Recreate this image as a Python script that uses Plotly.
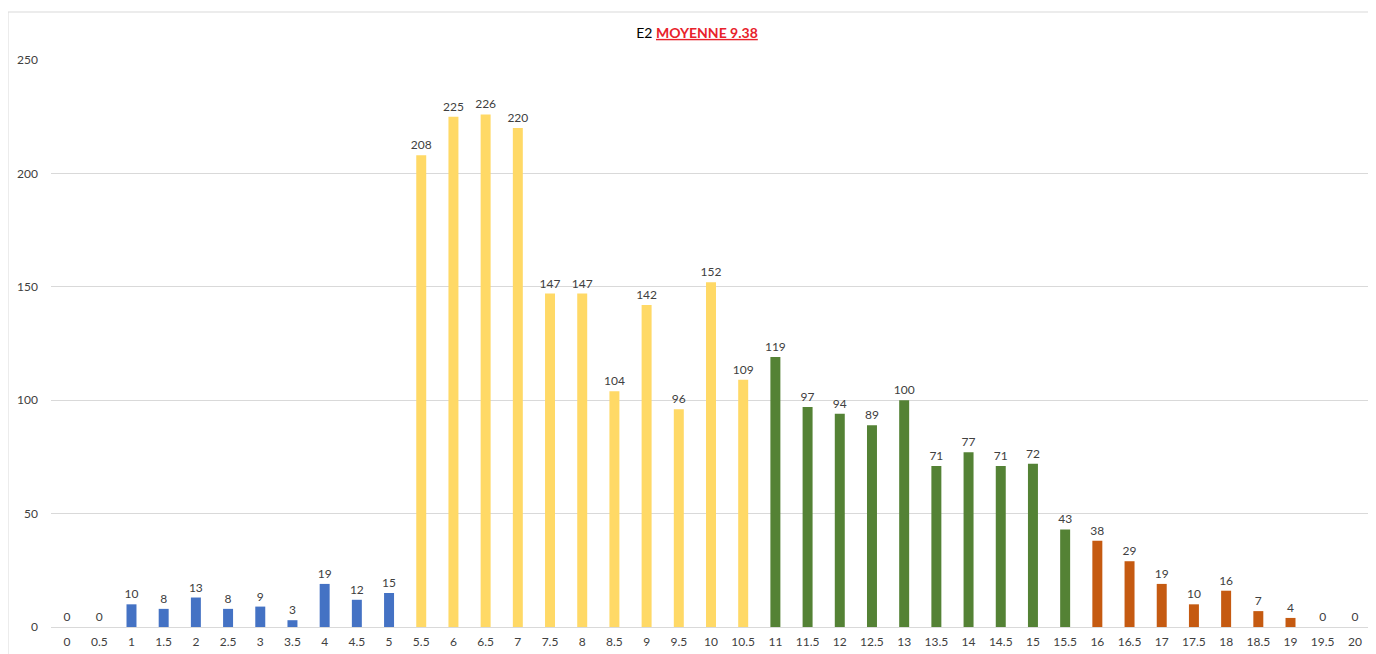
import plotly.graph_objects as go

categories = ["0","0.5","1","1.5","2","2.5","3","3.5","4","4.5","5",
              "5.5","6","6.5","7","7.5","8","8.5","9","9.5","10","10.5",
              "11","11.5","12","12.5","13","13.5","14","14.5","15","15.5",
              "16","16.5","17","17.5","18","18.5","19","19.5","20"]
values = [0,0,10,8,13,8,9,3,19,12,15,
          208,225,226,220,147,147,104,142,96,152,109,
          119,97,94,89,100,71,77,71,72,43,
          38,29,19,10,16,7,4,0,0]
group_sizes = [11, 11, 10, 9]
group_colors = ["#4472C4", "#FFD966", "#548235", "#C55A11"]

colors = []
for n, c in zip(group_sizes, group_colors):
    colors += [c] * n

# the page body has an 8px margin, so the figure starts at (8, 8) in the window
OFF = 8
W, H = 1376 - OFF, 654 - OFF
ml, mr, mt, mb = 51 - OFF, 5 - OFF + 8, 60 - OFF, 27 - OFF + 8
ml, mt = 43, 52
pw_right = 1371 - OFF
mr = W - pw_right
plot_bottom = 627 - OFF
mb = H - plot_bottom
pw, ph = W - ml - mr, H - mt - mb

fig = go.Figure(go.Bar(
    x=categories, y=values, marker_color=colors, marker_line_width=0,
    text=[str(v) for v in values], textposition="outside", cliponaxis=False,
    constraintext="none",
    textfont=dict(size=12, color="#404040", family="Lato, Open Sans, sans-serif"),
))

fig.update_layout(
    width=W, height=H,
    margin=dict(l=ml, r=mr, t=mt, b=mb, autoexpand=False),
    paper_bgcolor="white", plot_bgcolor="white",
    bargap=0.69, showlegend=False,
    font=dict(family="Lato, Open Sans, sans-serif", color="#595959", size=12),
    title=dict(
        text="E2 <b><span style='color:#E8222B'><u>MOYENNE 9.38</u></span></b>",
        x=(689 - ml) / pw, xref="paper", xanchor="center",
        y=1 - (33 - OFF) / H, yanchor="middle",
        font=dict(size=14, color="#000000", family="Lato, Open Sans, sans-serif"),
    ),
    xaxis=dict(type="category", tickfont=dict(size=12, color="#404040"),
               showgrid=False, showline=True, linecolor="#d9d9d9",
               ticks="", ticklabelstandoff=4),
    yaxis=dict(range=[0, 250], dtick=50, showgrid=True, gridcolor="#d9d9d9",
               zeroline=False, ticks="", tickfont=dict(size=12, color="#404040"),
               ticklabelstandoff=12),
    shapes=[dict(type="rect", xref="paper", yref="paper",
                 x0=(8 - OFF - ml) / pw, x1=(1372 - OFF - ml) / pw,
                 y0=(H - mb - (H + 10)) / ph, y1=(H - mb - (12 - OFF)) / ph,
                 line=dict(color="#d9d9d9", width=1), layer="below")],
)

fig.write_html("out.html")
